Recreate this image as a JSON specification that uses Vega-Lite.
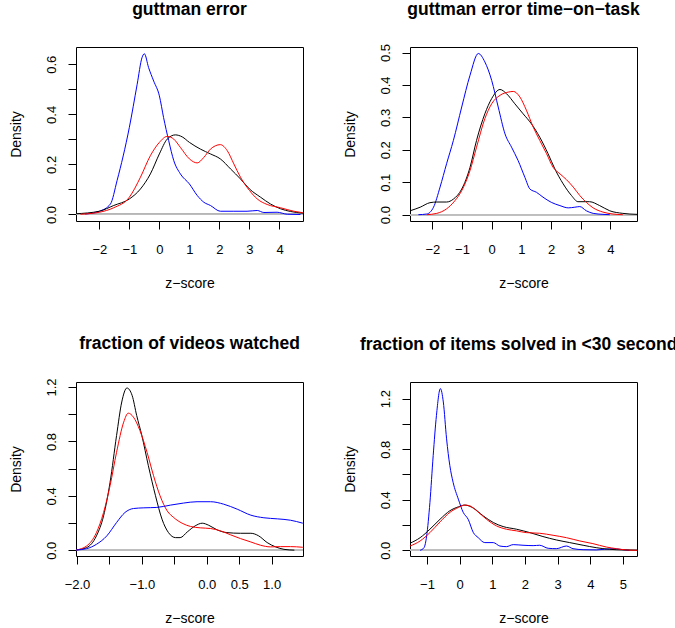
{
  "$schema": "https://vega.github.io/schema/vega-lite/v6.json",
  "padding": {"left": 8, "top": 0, "right": 0, "bottom": 0},
  "background": "#ffffff",
  "bounds": "flush",
  "columns": 2,
  "spacing": {"row": 161, "column": 107},
  "datasets": {
    "p1": [
      {"series":"blue","z":-2.47,"density":0.002},{"series":"blue","z":-2,"density":0.013},{"series":"blue","z":-1.63,"density":0.042},{"series":"blue","z":-1.41,"density":0.135},{"series":"blue","z":-1,"density":0.348},{"series":"blue","z":-0.74,"density":0.52},{"series":"blue","z":-0.58,"density":0.626},{"series":"blue","z":-0.5,"density":0.642},{"series":"blue","z":-0.36,"density":0.587},{"series":"blue","z":-0.19,"density":0.533},{"series":"blue","z":0,"density":0.474},{"series":"blue","z":0.14,"density":0.387},{"series":"blue","z":0.31,"density":0.295},{"series":"blue","z":0.48,"density":0.215},{"series":"blue","z":0.7,"density":0.162},{"series":"blue","z":1,"density":0.122},{"series":"blue","z":1.26,"density":0.076},{"series":"blue","z":1.48,"density":0.049},{"series":"blue","z":1.7,"density":0.036},{"series":"blue","z":2.03,"density":0.013},{"series":"blue","z":2.48,"density":0.013},{"series":"blue","z":2.92,"density":0.013},{"series":"blue","z":3.26,"density":0.016},{"series":"blue","z":3.48,"density":0.008},{"series":"blue","z":3.92,"density":0.009},{"series":"blue","z":4.26,"density":0.001},{"series":"blue","z":4.7,"density":0},
      {"series":"black","z":-2.78,"density":0.003},{"series":"black","z":-2,"density":0.013},{"series":"black","z":-1.52,"density":0.036},{"series":"black","z":-1,"density":0.062},{"series":"black","z":-0.63,"density":0.102},{"series":"black","z":-0.3,"density":0.162},{"series":"black","z":0,"density":0.242},{"series":"black","z":0.26,"density":0.301},{"series":"black","z":0.53,"density":0.318},{"series":"black","z":0.76,"density":0.31},{"series":"black","z":1,"density":0.288},{"series":"black","z":1.37,"density":0.261},{"series":"black","z":1.7,"density":0.242},{"series":"black","z":2.03,"density":0.222},{"series":"black","z":2.37,"density":0.182},{"series":"black","z":2.7,"density":0.142},{"series":"black","z":3,"density":0.102},{"series":"black","z":3.37,"density":0.069},{"series":"black","z":3.7,"density":0.042},{"series":"black","z":4.03,"density":0.023},{"series":"black","z":4.37,"density":0.012},{"series":"black","z":4.78,"density":0.005},
      {"series":"red","z":-2.63,"density":0.001},{"series":"red","z":-2,"density":0.009},{"series":"red","z":-1.52,"density":0.027},{"series":"red","z":-1,"density":0.069},{"series":"red","z":-0.63,"density":0.149},{"series":"red","z":-0.3,"density":0.235},{"series":"red","z":0,"density":0.288},{"series":"red","z":0.26,"density":0.312},{"series":"red","z":0.48,"density":0.301},{"series":"red","z":0.7,"density":0.268},{"series":"red","z":1,"density":0.222},{"series":"red","z":1.26,"density":0.206},{"series":"red","z":1.48,"density":0.228},{"series":"red","z":1.7,"density":0.261},{"series":"red","z":2.03,"density":0.279},{"series":"red","z":2.26,"density":0.255},{"series":"red","z":2.48,"density":0.202},{"series":"red","z":2.7,"density":0.149},{"series":"red","z":3,"density":0.096},{"series":"red","z":3.26,"density":0.062},{"series":"red","z":3.59,"density":0.04},{"series":"red","z":4.03,"density":0.027},{"series":"red","z":4.48,"density":0.013},{"series":"red","z":4.78,"density":0.007}
    ],
    "p2": [
      {"series":"blue","z":-2.47,"density":0},{"series":"blue","z":-2.19,"density":0.002},{"series":"blue","z":-1.96,"density":0.023},{"series":"blue","z":-1.74,"density":0.085},{"series":"blue","z":-1.52,"density":0.157},{"series":"blue","z":-1.29,"density":0.229},{"series":"blue","z":-1.01,"density":0.332},{"series":"blue","z":-0.73,"density":0.43},{"series":"blue","z":-0.45,"density":0.497},{"series":"blue","z":-0.23,"density":0.471},{"series":"blue","z":0,"density":0.414},{"series":"blue","z":0.22,"density":0.332},{"series":"blue","z":0.45,"density":0.249},{"series":"blue","z":0.67,"density":0.208},{"series":"blue","z":0.89,"density":0.167},{"series":"blue","z":1.12,"density":0.115},{"series":"blue","z":1.29,"density":0.079},{"series":"blue","z":1.51,"density":0.069},{"series":"blue","z":1.73,"density":0.054},{"series":"blue","z":2.01,"density":0.038},{"series":"blue","z":2.3,"density":0.028},{"series":"blue","z":2.58,"density":0.021},{"series":"blue","z":2.8,"density":0.023},{"series":"blue","z":2.97,"density":0.025},{"series":"blue","z":3.19,"density":0.012},{"series":"blue","z":3.42,"density":0.004},{"series":"blue","z":3.75,"density":0.001},{"series":"blue","z":3.98,"density":0},
      {"series":"black","z":-2.75,"density":0.012},{"series":"black","z":-2.41,"density":0.023},{"series":"black","z":-2.08,"density":0.037},{"series":"black","z":-1.85,"density":0.039},{"series":"black","z":-1.52,"density":0.039},{"series":"black","z":-1.29,"density":0.048},{"series":"black","z":-1.01,"density":0.079},{"series":"black","z":-0.73,"density":0.146},{"series":"black","z":-0.51,"density":0.229},{"series":"black","z":-0.23,"density":0.311},{"series":"black","z":0,"density":0.358},{"series":"black","z":0.28,"density":0.386},{"series":"black","z":0.5,"density":0.373},{"series":"black","z":0.78,"density":0.342},{"series":"black","z":1.06,"density":0.311},{"series":"black","z":1.34,"density":0.28},{"series":"black","z":1.62,"density":0.239},{"series":"black","z":1.9,"density":0.188},{"series":"black","z":2.13,"density":0.141},{"series":"black","z":2.41,"density":0.095},{"series":"black","z":2.69,"density":0.059},{"series":"black","z":2.91,"density":0.04},{"series":"black","z":3.3,"density":0.04},{"series":"black","z":3.64,"density":0.028},{"series":"black","z":3.98,"density":0.012},{"series":"black","z":4.42,"density":0.004},{"series":"black","z":4.9,"density":0.001},
      {"series":"red","z":-2.19,"density":0},{"series":"red","z":-1.85,"density":0.004},{"series":"red","z":-1.52,"density":0.018},{"series":"red","z":-1.24,"density":0.043},{"series":"red","z":-1.01,"density":0.074},{"series":"red","z":-0.73,"density":0.136},{"series":"red","z":-0.51,"density":0.208},{"series":"red","z":-0.23,"density":0.296},{"series":"red","z":0,"density":0.342},{"series":"red","z":0.28,"density":0.368},{"series":"red","z":0.56,"density":0.378},{"series":"red","z":0.73,"density":0.38},{"series":"red","z":0.95,"density":0.363},{"series":"red","z":1.17,"density":0.322},{"series":"red","z":1.4,"density":0.27},{"series":"red","z":1.62,"density":0.229},{"series":"red","z":1.85,"density":0.188},{"series":"red","z":2.07,"density":0.146},{"series":"red","z":2.3,"density":0.126},{"series":"red","z":2.52,"density":0.108},{"series":"red","z":2.75,"density":0.085},{"series":"red","z":2.97,"density":0.059},{"series":"red","z":3.19,"density":0.038},{"series":"red","z":3.42,"density":0.021},{"series":"red","z":3.75,"density":0.008},{"series":"red","z":4.09,"density":0.002},{"series":"red","z":4.42,"density":0}
    ],
    "p3": [
      {"series":"black","z":-2.015,"density":0.002},{"series":"black","z":-1.85,"density":0.02},{"series":"black","z":-1.7,"density":0.106},{"series":"black","z":-1.59,"density":0.253},{"series":"black","z":-1.49,"density":0.5},{"series":"black","z":-1.39,"density":0.843},{"series":"black","z":-1.31,"density":1.09},{"series":"black","z":-1.23,"density":1.193},{"series":"black","z":-1.15,"density":1.138},{"series":"black","z":-1.08,"density":0.991},{"series":"black","z":-1.0,"density":0.843},{"series":"black","z":-0.9,"density":0.622},{"series":"black","z":-0.79,"density":0.401},{"series":"black","z":-0.69,"density":0.229},{"series":"black","z":-0.59,"density":0.13},{"series":"black","z":-0.48,"density":0.093},{"series":"black","z":-0.41,"density":0.093},{"series":"black","z":-0.3,"density":0.135},{"series":"black","z":-0.18,"density":0.179},{"series":"black","z":-0.07,"density":0.199},{"series":"black","z":0.03,"density":0.184},{"series":"black","z":0.16,"density":0.15},{"series":"black","z":0.31,"density":0.13},{"series":"black","z":0.52,"density":0.125},{"series":"black","z":0.68,"density":0.125},{"series":"black","z":0.8,"density":0.106},{"series":"black","z":0.93,"density":0.057},{"series":"black","z":1.06,"density":0.025},{"series":"black","z":1.19,"density":0.007},{"series":"black","z":1.35,"density":0.001},
      {"series":"red","z":-2.015,"density":0.002},{"series":"red","z":-1.85,"density":0.032},{"series":"red","z":-1.7,"density":0.13},{"series":"red","z":-1.59,"density":0.278},{"series":"red","z":-1.49,"density":0.475},{"series":"red","z":-1.39,"density":0.72},{"series":"red","z":-1.28,"density":0.942},{"series":"red","z":-1.21,"density":1.008},{"series":"red","z":-1.13,"density":0.979},{"series":"red","z":-1.03,"density":0.88},{"series":"red","z":-0.92,"density":0.72},{"series":"red","z":-0.82,"density":0.548},{"series":"red","z":-0.72,"density":0.401},{"series":"red","z":-0.61,"density":0.29},{"series":"red","z":-0.51,"density":0.241},{"series":"red","z":-0.38,"density":0.199},{"series":"red","z":-0.25,"density":0.175},{"series":"red","z":-0.1,"density":0.165},{"series":"red","z":0.06,"density":0.16},{"series":"red","z":0.21,"density":0.143},{"series":"red","z":0.37,"density":0.113},{"series":"red","z":0.52,"density":0.086},{"series":"red","z":0.68,"density":0.061},{"series":"red","z":0.83,"density":0.037},{"series":"red","z":0.98,"density":0.025},{"series":"red","z":1.14,"density":0.027},{"series":"red","z":1.29,"density":0.027},{"series":"red","z":1.48,"density":0.022},
      {"series":"blue","z":-2.015,"density":0.002},{"series":"blue","z":-1.85,"density":0.012},{"series":"blue","z":-1.7,"density":0.044},{"series":"blue","z":-1.54,"density":0.106},{"series":"blue","z":-1.39,"density":0.204},{"series":"blue","z":-1.26,"density":0.278},{"series":"blue","z":-1.13,"density":0.307},{"series":"blue","z":-0.97,"density":0.312},{"series":"blue","z":-0.77,"density":0.315},{"series":"blue","z":-0.56,"density":0.332},{"series":"blue","z":-0.36,"density":0.347},{"series":"blue","z":-0.15,"density":0.357},{"series":"blue","z":0.06,"density":0.357},{"series":"blue","z":0.26,"density":0.339},{"series":"blue","z":0.47,"density":0.302},{"series":"blue","z":0.68,"density":0.258},{"series":"blue","z":0.88,"density":0.239},{"series":"blue","z":1.09,"density":0.231},{"series":"blue","z":1.29,"density":0.221},{"series":"blue","z":1.48,"density":0.199}
    ],
    "p4": [
      {"series":"blue","z":-1.21,"density":0},{"series":"blue","z":-1.09,"density":0.021},{"series":"blue","z":-1.01,"density":0.114},{"series":"blue","z":-0.91,"density":0.379},{"series":"blue","z":-0.81,"density":0.75},{"series":"blue","z":-0.71,"density":1.068},{"series":"blue","z":-0.59,"density":1.28},{"series":"blue","z":-0.5,"density":1.174},{"series":"blue","z":-0.4,"density":0.882},{"series":"blue","z":-0.3,"density":0.67},{"series":"blue","z":-0.2,"density":0.538},{"series":"blue","z":-0.04,"density":0.405},{"series":"blue","z":0.11,"density":0.3},{"series":"blue","z":0.26,"density":0.246},{"series":"blue","z":0.42,"density":0.14},{"series":"blue","z":0.57,"density":0.1},{"series":"blue","z":0.77,"density":0.061},{"series":"blue","z":1.03,"density":0.061},{"series":"blue","z":1.23,"density":0.034},{"series":"blue","z":1.43,"density":0.029},{"series":"blue","z":1.64,"density":0.045},{"series":"blue","z":1.94,"density":0.04},{"series":"blue","z":2.25,"density":0.037},{"series":"blue","z":2.45,"density":0.04},{"series":"blue","z":2.71,"density":0.016},{"series":"blue","z":2.96,"density":0.013},{"series":"blue","z":3.27,"density":0.034},{"series":"blue","z":3.47,"density":0.013},{"series":"blue","z":3.78,"density":0.005},{"series":"blue","z":4.18,"density":0.003},{"series":"blue","z":4.69,"density":0.013},{"series":"blue","z":5.0,"density":0.005},{"series":"blue","z":5.2,"density":0},
      {"series":"black","z":-1.52,"density":0.056},{"series":"black","z":-1.21,"density":0.1},{"series":"black","z":-0.91,"density":0.167},{"series":"black","z":-0.6,"density":0.246},{"series":"black","z":-0.3,"density":0.313},{"series":"black","z":-0.04,"density":0.344},{"series":"black","z":0.16,"density":0.358},{"series":"black","z":0.42,"density":0.334},{"series":"black","z":0.72,"density":0.273},{"series":"black","z":1.03,"density":0.22},{"series":"black","z":1.33,"density":0.188},{"series":"black","z":1.74,"density":0.167},{"series":"black","z":2.15,"density":0.14},{"series":"black","z":2.55,"density":0.109},{"series":"black","z":2.96,"density":0.082},{"series":"black","z":3.37,"density":0.061},{"series":"black","z":3.78,"density":0.04},{"series":"black","z":4.18,"density":0.021},{"series":"black","z":4.59,"density":0.008},{"series":"black","z":5.0,"density":0.003},{"series":"black","z":5.43,"density":0.001},
      {"series":"red","z":-1.52,"density":0.034},{"series":"red","z":-1.21,"density":0.074},{"series":"red","z":-0.91,"density":0.14},{"series":"red","z":-0.6,"density":0.225},{"series":"red","z":-0.3,"density":0.3},{"series":"red","z":-0.04,"density":0.339},{"series":"red","z":0.16,"density":0.358},{"series":"red","z":0.31,"density":0.352},{"series":"red","z":0.52,"density":0.313},{"series":"red","z":0.82,"density":0.246},{"series":"red","z":1.13,"density":0.193},{"series":"red","z":1.43,"density":0.167},{"series":"red","z":1.74,"density":0.154},{"series":"red","z":2.04,"density":0.14},{"series":"red","z":2.45,"density":0.135},{"series":"red","z":2.86,"density":0.119},{"series":"red","z":3.27,"density":0.1},{"series":"red","z":3.68,"density":0.074},{"series":"red","z":4.08,"density":0.053},{"series":"red","z":4.49,"density":0.026},{"series":"red","z":4.8,"density":0.013},{"series":"red","z":5.1,"density":0.003},{"series":"red","z":5.43,"density":0}
    ]
  },
  "concat": [
    {
      "width": 227, "height": 174,
      "title": "guttman error",
      "data": {"name": "p1"},
      "layer": [
        {"mark": {"type": "rule", "color": "#BEBEBE", "strokeWidth": 1},
         "encoding": {"y": {"datum": 0, "type": "quantitative", "title": "Density",
           "axis": {"title": "Density", "labelOverlap": false, "values": [0,0.1,0.2,0.3,0.4,0.5,0.6], "labelExpr": "(datum.value == 0 || datum.value == 0.2 || datum.value == 0.4 || datum.value == 0.6) ? format(datum.value, '.1f') : ''"}}}},
        {"mark": {"type": "line", "clip": true, "strokeWidth": 1, "interpolate": "monotone"},
         "encoding": {
           "x": {"field": "z", "type": "quantitative", "scale": {"domain": [-2.777, 4.783], "nice": false, "zero": false},
                 "axis": {"title": "z−score", "values": [-2,-1,0,1,2,3,4], "format": "d", "labelOverlap": false}},
           "y": {"field": "density", "type": "quantitative", "scale": {"domain": [-0.026, 0.669], "nice": false, "zero": false},
                 "axis": {"title": "Density", "labelOverlap": false, "values": [0,0.1,0.2,0.3,0.4,0.5,0.6], "labelExpr": "(datum.value == 0 || datum.value == 0.2 || datum.value == 0.4 || datum.value == 0.6) ? format(datum.value, '.1f') : ''"}},
           "color": {"field": "series", "type": "nominal", "scale": {"domain": ["black","red","blue"], "range": ["#000000","#FF0000","#0000FF"]}, "legend": null}
         }}
      ]
    },
    {
      "width": 227, "height": 174,
      "title": {"text": "guttman error time−on−task", "offset": 24.5},
      "data": {"name": "p2"},
      "layer": [
        {"mark": {"type": "rule", "color": "#BEBEBE", "strokeWidth": 1},
         "encoding": {"y": {"datum": 0, "type": "quantitative", "title": "Density",
           "axis": {"title": "Density", "values": [0,0.1,0.2,0.3,0.4,0.5], "labelOverlap": false, "labelExpr": "format(datum.value, '.1f')"}}}},
        {"mark": {"type": "line", "clip": true, "strokeWidth": 1, "interpolate": "monotone"},
         "encoding": {
           "x": {"field": "z", "type": "quantitative", "scale": {"domain": [-2.753, 4.898], "nice": false, "zero": false},
                 "axis": {"title": "z−score", "values": [-2,-1,0,1,2,3,4], "format": "d", "labelOverlap": false}},
           "y": {"field": "density", "type": "quantitative", "scale": {"domain": [-0.0195, 0.517], "nice": false, "zero": false},
                 "axis": {"title": "Density", "values": [0,0.1,0.2,0.3,0.4,0.5], "labelOverlap": false, "labelExpr": "format(datum.value, '.1f')"}},
           "color": {"field": "series", "type": "nominal", "scale": {"domain": ["black","red","blue"], "range": ["#000000","#FF0000","#0000FF"]}, "legend": null}
         }}
      ]
    },
    {
      "width": 227, "height": 174,
      "title": {"text": "fraction of videos watched", "offset": 25},
      "data": {"name": "p3"},
      "layer": [
        {"mark": {"type": "rule", "color": "#BEBEBE", "strokeWidth": 1},
         "encoding": {"y": {"datum": 0, "type": "quantitative", "title": "Density",
           "axis": {"title": "Density", "labelOverlap": false, "values": [0,0.2,0.4,0.6,0.8,1,1.2], "labelExpr": "(datum.value == 0 || datum.value == 0.4 || datum.value == 0.8 || datum.value == 1.2) ? format(datum.value, '.1f') : ''"}}}},
        {"mark": {"type": "line", "clip": true, "strokeWidth": 1, "interpolate": "monotone"},
         "encoding": {
           "x": {"field": "z", "type": "quantitative", "scale": {"domain": [-2.015, 1.483], "nice": false, "zero": false},
                 "axis": {"title": "z−score", "labelOverlap": false, "values": [-2,-1.5,-1,-0.5,0,0.5,1], "labelExpr": "(datum.value == -1.5 || datum.value == -0.5) ? '' : format(datum.value, '.1f')"}},
           "y": {"field": "density", "type": "quantitative", "scale": {"domain": [-0.042, 1.237], "nice": false, "zero": false},
                 "axis": {"title": "Density", "labelOverlap": false, "values": [0,0.2,0.4,0.6,0.8,1,1.2], "labelExpr": "(datum.value == 0 || datum.value == 0.4 || datum.value == 0.8 || datum.value == 1.2) ? format(datum.value, '.1f') : ''"}},
           "color": {"field": "series", "type": "nominal", "scale": {"domain": ["black","red","blue"], "range": ["#000000","#FF0000","#0000FF"]}, "legend": null}
         }}
      ]
    },
    {
      "width": 227, "height": 174,
      "title": "fraction of items solved in <30 seconds",
      "data": {"name": "p4"},
      "layer": [
        {"mark": {"type": "rule", "color": "#BEBEBE", "strokeWidth": 1},
         "encoding": {"y": {"datum": 0, "type": "quantitative", "title": "Density",
           "axis": {"title": "Density", "labelOverlap": false, "values": [0,0.2,0.4,0.6,0.8,1,1.2], "labelExpr": "(datum.value == 0 || datum.value == 0.4 || datum.value == 0.8 || datum.value == 1.2) ? format(datum.value, '.1f') : ''"}}}},
        {"mark": {"type": "line", "clip": true, "strokeWidth": 1, "interpolate": "monotone"},
         "encoding": {
           "x": {"field": "z", "type": "quantitative", "scale": {"domain": [-1.52, 5.43], "nice": false, "zero": false},
                 "axis": {"title": "z−score", "values": [-1,0,1,2,3,4,5], "format": "d", "labelOverlap": false}},
           "y": {"field": "density", "type": "quantitative", "scale": {"domain": [-0.045, 1.332], "nice": false, "zero": false},
                 "axis": {"title": "Density", "labelOverlap": false, "values": [0,0.2,0.4,0.6,0.8,1,1.2], "labelExpr": "(datum.value == 0 || datum.value == 0.4 || datum.value == 0.8 || datum.value == 1.2) ? format(datum.value, '.1f') : ''"}},
           "color": {"field": "series", "type": "nominal", "scale": {"domain": ["black","red","blue"], "range": ["#000000","#FF0000","#0000FF"]}, "legend": null}
         }}
      ]
    }
  ],
  "config": {
    "font": "Liberation Sans",
    "view": {"stroke": "#000000", "strokeWidth": 1},
    "axis": {
      "domain": false, "grid": false,
      "ticks": true, "tickColor": "#000000", "tickSize": 8, "tickWidth": 1,
      "labelColor": "#000000", "labelFont": "Liberation Sans", "labelFontSize": 13,
      "titleColor": "#000000", "titleFont": "Liberation Sans", "titleFontSize": 14, "titleFontWeight": "normal",
      "labelOverlap": false, "labelFlush": false, "labelBound": false
    },
    "axisX": {"labelBaseline": "alphabetic", "labelPadding": 24, "titleY": 66, "titleBaseline": "alphabetic"},
    "axisY": {"labelAngle": -90, "labelAlign": "center", "labelBaseline": "alphabetic", "labelPadding": 13, "titleX": -56, "titleAngle": -90, "titleBaseline": "alphabetic"},
    "title": {"font": "Liberation Sans", "fontSize": 17.5, "fontWeight": "bold", "color": "#000000", "frame": "group", "anchor": "middle", "baseline": "alphabetic", "offset": 29}
  }
}
